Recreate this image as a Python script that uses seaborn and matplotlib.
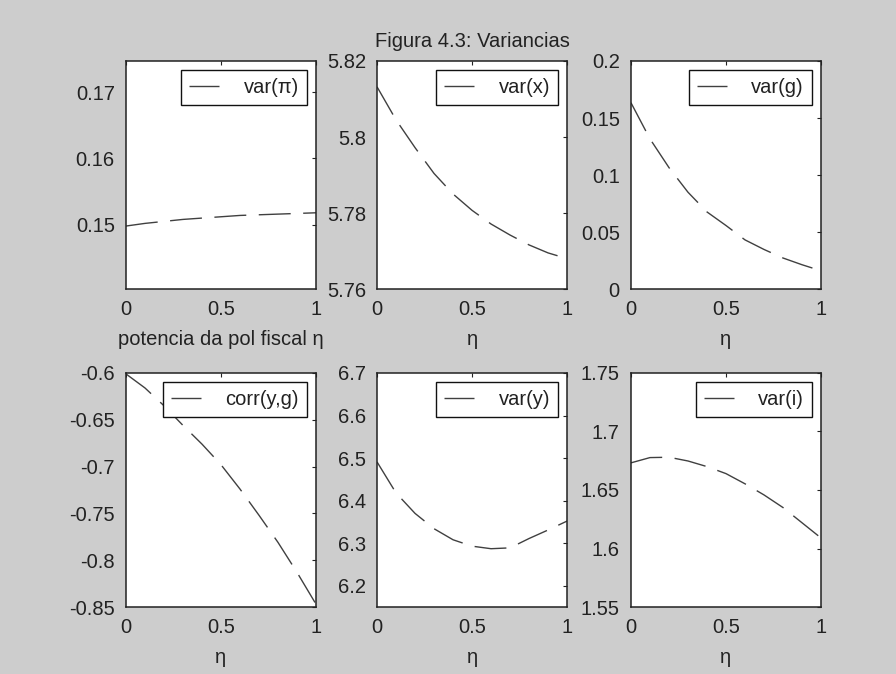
import numpy as np
import pandas as pd
import matplotlib
matplotlib.use("Agg")
import matplotlib.pyplot as plt
from matplotlib.ticker import FuncFormatter
import seaborn as sns

# valores (eta de 0 a 1)
eta = [0.0, 0.1, 0.2, 0.3, 0.4, 0.5, 0.6, 0.7, 0.8, 0.9, 1.0]
var_pi = [0.1498, 0.1502, 0.1505, 0.1508, 0.1510, 0.1512, 0.1514, 0.1515, 0.1516, 0.1517, 0.1518]
var_x = [5.8132, 5.8045, 5.7972, 5.7904, 5.7850, 5.7807, 5.7771, 5.7742, 5.7716, 5.7695, 5.7680]
var_g = [0.1634, 0.1317, 0.1065, 0.0849, 0.0676, 0.0557, 0.0431, 0.0347, 0.0272, 0.0213, 0.0160]
corr_yg = [-0.601, -0.616, -0.635, -0.656, -0.676, -0.698, -0.724, -0.752, -0.781, -0.813, -0.847]
var_y = [6.491, 6.418, 6.370, 6.334, 6.308, 6.293, 6.287, 6.289, 6.311, 6.331, 6.352]
var_i = [1.6732, 1.6777, 1.6780, 1.6748, 1.6700, 1.6640, 1.6553, 1.6458, 1.6350, 1.6220, 1.6090]

series = [var_pi, var_x, var_g, corr_yg, var_y, var_i]
series_labels = ["var(π)", "var(x)", "var(g)", "corr(y,g)", "var(y)", "var(i)"]
x_labels = ["potencia da pol fiscal η", "η", "η", "η", "η", "η"]
y_limits = [(0.1403, 0.1747), (5.76, 5.82), (0.0, 0.2),
            (-0.85, -0.6), (6.15, 6.7), (1.55, 1.75)]
y_ticks = [[0.15, 0.16, 0.17],
           [5.76, 5.78, 5.80, 5.82],
           [0.0, 0.05, 0.1, 0.15, 0.2],
           [-0.85, -0.8, -0.75, -0.7, -0.65, -0.6],
           [6.2, 6.3, 6.4, 6.5, 6.6, 6.7],
           [1.55, 1.6, 1.65, 1.7, 1.75]]
x_ticks = [0, 0.5, 1]
fig_title = "Figura 4.3: Variancias"

sns.set_theme(style="white")
plt.rcParams["font.family"] = ["Liberation Sans", "DejaVu Sans"]
fs = 14.5
plt.rcParams["font.size"] = fs
plt.rcParams["text.color"] = "#222222"
plt.rcParams["axes.labelcolor"] = "#222222"
plt.rcParams["xtick.color"] = "#222222"
plt.rcParams["ytick.color"] = "#222222"

bg = "#cdcdcd"
fig = plt.figure(figsize=(8.96, 6.74), dpi=100, facecolor=bg)

lefts = [0.1406, 0.4208, 0.7042]
rows = [(0.5712, 0.3383), (0.0994, 0.3472)]
fmt = FuncFormatter(lambda v, p: f"{v:g}")

for i in range(6):
    r, c = divmod(i, 3)
    ax = fig.add_axes([lefts[c], rows[r][0], 0.2121, rows[r][1]])
    ax.set_facecolor("white")

    df = pd.DataFrame({"eta": eta, "valor": series[i]})
    sns.lineplot(data=df, x="eta", y="valor", ax=ax, color="#404040",
                 linewidth=1.0, linestyle="--", label=series_labels[i])
    ax.lines[0].set_dashes((23, 9))

    ax.set_xlim(0, 1)
    ax.set_ylim(*y_limits[i])
    ax.set_xticks(x_ticks)
    ax.set_yticks(y_ticks[i])
    ax.xaxis.set_major_formatter(fmt)
    ax.yaxis.set_major_formatter(fmt)
    ax.tick_params(direction="in", length=3, width=0.8, top=True, right=True,
                   pad=8, labelsize=fs, color="#222222")
    for s in ax.spines.values():
        s.set_color("#222222")
        s.set_linewidth(1.1)

    ax.set_xlabel(x_labels[i], labelpad=8, fontsize=fs)
    ax.set_ylabel("")

    leg = ax.legend(loc="upper right", fancybox=False, framealpha=1,
                    edgecolor="#111111", borderpad=0.4, handlelength=1.5,
                    handletextpad=1.2, borderaxespad=0.45, fontsize=fs)
    leg.get_frame().set_linewidth(1.0)

    if i == 1:
        ax.set_title(fig_title, pad=10, fontsize=fs)

fig.savefig("out.png", dpi=100, facecolor=bg)
